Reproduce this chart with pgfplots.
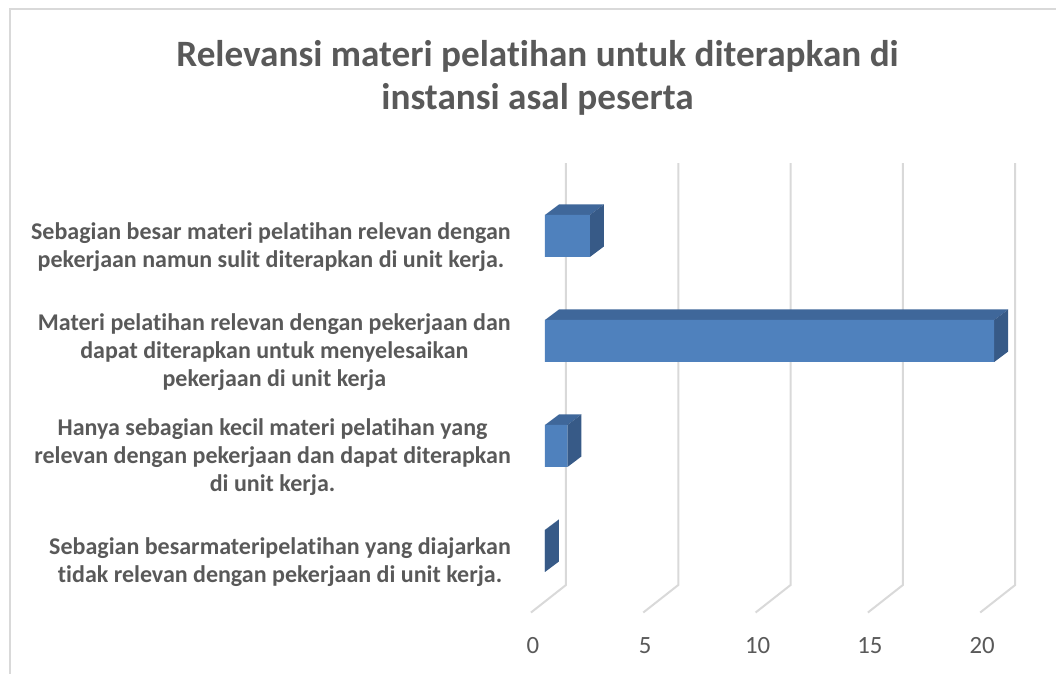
\documentclass[border=0pt]{standalone}
\usepackage{fontspec}
\setmainfont{Carlito}[Ligatures=NoCommon]
\usepackage{pgfplots}
\pgfplotsset{compat=1.18}
\usepackage{pgfplotstable}
\definecolor{txt}{HTML}{595959}
\definecolor{gridc}{HTML}{D9D9D9}
\definecolor{frontc}{HTML}{4F81BD}
\definecolor{topc}{HTML}{3F679A}
\definecolor{sidec}{HTML}{375A87}

\pgfplotstableread{
pos val
3 2
2 20
1 1
0 0
}\datatable

\def\ddx{0.623}
\newcommand{\threedbar}[2]{%
  \pgfmathsetmacro\yb{#1-0.2}%
  \pgfmathsetmacro\yt{#1+0.2}%
  \pgfmathsetmacro\ytt{#1+0.3}%
  \pgfmathsetmacro\ybb{#1-0.1}%
  \pgfmathsetmacro\xe{#2+\ddx}%
  \edef\doit{%
    \noexpand\addplot[fill=topc, draw=none, forget plot] coordinates {(0,\yt) (#2,\yt) (\xe,\ytt) (\ddx,\ytt) (0,\yt)};
    \noexpand\addplot[fill=sidec, draw=none, forget plot] coordinates {(#2,\yb) (\xe,\ybb) (\xe,\ytt) (#2,\yt) (#2,\yb)};
  }\doit
}

\begin{document}
\begin{tikzpicture}[x=0.75pt,y=0.75pt]
\useasboundingbox (0,0) rectangle (1056,674);
\clip (0,0) rectangle (1056,674);
\draw[gridc, line width=1.5pt] (9.5,-10) -- (9.5,664.5) -- (1070,664.5);
\node[anchor=base, font=\fontsize{27.9}{32}\selectfont\bfseries, text=txt] at (537.5,674-67) {Relevansi materi pelatihan untuk diterapkan di};
\node[anchor=base, font=\fontsize{27.9}{32}\selectfont\bfseries, text=txt] at (537.5,674-110) {instansi asal peserta};
\begin{axis}[
  at={(391.875pt,37.125pt)}, anchor=south west,
  scale only axis, width=387.45pt, height=346.5pt,
  xmin=-1, xmax=22, ymin=-0.7, ymax=3.7,
  clip=false,
  axis line style={draw=none},
  tick style={draw=none},
  xtick={0,5,10,15,20},
  xticklabel style={anchor=base, xshift=-9pt, yshift=-21.4pt, font=\fontsize{18.6}{22}\selectfont, text=txt},
  /pgf/number format/assume math mode=true,
  ytick={0,1,2,3},
  yticklabels={{Sebagian besarmateripelatihan yang diajarkan\\tidak relevan dengan pekerjaan di unit kerja.},
               {Hanya sebagian kecil materi pelatihan yang\\relevan dengan pekerjaan dan dapat diterapkan\\di unit kerja.},
               {Materi pelatihan relevan dengan pekerjaan dan\\dapat diterapkan untuk menyelesaikan\\pekerjaan di unit kerja},
               {Sebagian besar materi pelatihan relevan dengan\\pekerjaan namun sulit diterapkan di unit kerja.}},
  yticklabel style={align=center, anchor=east, inner sep=0pt, xshift=-8.6pt, yshift=-8.5pt,
    font=\fontsize{18}{21}\selectfont\bfseries, text=txt},
]
\draw[gridc, line width=1.5pt] (axis cs:0.935,3.695) -- (axis cs:0.935,-0.324) -- (axis cs:-0.623,-0.586);
\draw[gridc, line width=1.5pt] (axis cs:5.935,3.695) -- (axis cs:5.935,-0.324) -- (axis cs:4.377,-0.586);
\draw[gridc, line width=1.5pt] (axis cs:10.935,3.695) -- (axis cs:10.935,-0.324) -- (axis cs:9.377,-0.586);
\draw[gridc, line width=1.5pt] (axis cs:15.935,3.695) -- (axis cs:15.935,-0.324) -- (axis cs:14.377,-0.586);
\draw[gridc, line width=1.5pt] (axis cs:20.935,3.695) -- (axis cs:20.935,-0.324) -- (axis cs:19.377,-0.586);
\pgfplotsinvokeforeach{0,1,2,3}{%
  \pgfplotstablegetelem{#1}{pos}\of\datatable \edef\cp{\pgfplotsretval}%
  \pgfplotstablegetelem{#1}{val}\of\datatable \edef\cv{\pgfplotsretval}%
  \threedbar{\cp}{\cv}%
}
\addplot[xbar, bar width=0.4, fill=frontc, draw=none] table[x=val, y=pos]{\datatable};
\end{axis}
\end{tikzpicture}
\end{document}
